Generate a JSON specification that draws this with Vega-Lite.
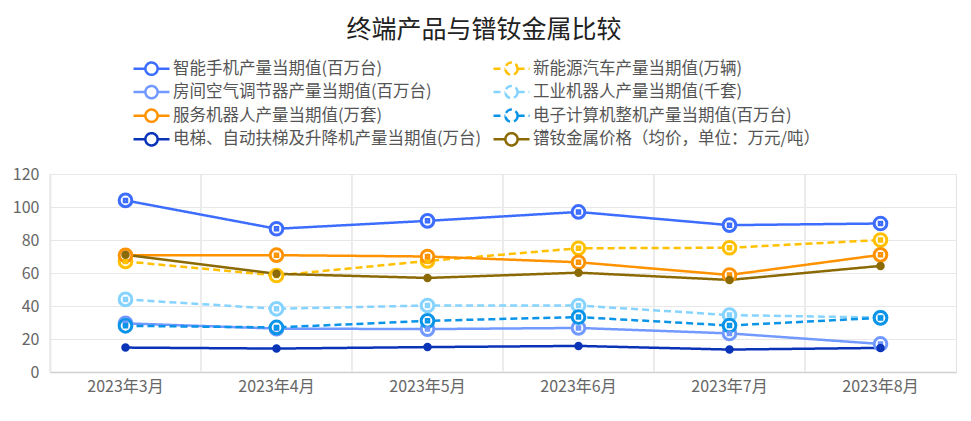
{
  "$schema": "https://vega.github.io/schema/vega-lite/v6.json",
  "width": 906,
  "height": 198,
  "autosize": "none",
  "padding": {"left": 50, "top": 174, "right": 15, "bottom": 49},
  "title": {"text": "终端产品与镨钕金属比较", "fontSize": 25, "fontWeight": "normal", "color": "#222", "offset": 15, "dx": -19, "font": "Noto Sans CJK SC"},
  "config": {
    "font": "Noto Sans CJK SC",
    "view": {"stroke": "#e3e3e3"},
    "legend": {
      "orient": "none", "legendX": 91, "legendY": -116, "columns": 2, "columnPadding": 6, "rowPadding": 0.6,
      "labelFontSize": 16.5, "labelColor": "#555", "labelLimit": 500, "labelOffset": 11,
      "symbolType": "M-2,0H-0.68M0.68,0H2M0.68,0A0.68,0.68 0 1,1 -0.68,0A0.68,0.68 0 1,1 0.68,0Z",
      "symbolSize": 324, "symbolStrokeWidth": 2.5, "symbolFillColor": "white", "title": null
    }
  },
  "data": {"values": [
    {"month": "2023年3月", "series": "智能手机产量当期值(百万台)", "value": 104},
    {"month": "2023年4月", "series": "智能手机产量当期值(百万台)", "value": 86.8},
    {"month": "2023年5月", "series": "智能手机产量当期值(百万台)", "value": 91.6},
    {"month": "2023年6月", "series": "智能手机产量当期值(百万台)", "value": 97},
    {"month": "2023年7月", "series": "智能手机产量当期值(百万台)", "value": 89},
    {"month": "2023年8月", "series": "智能手机产量当期值(百万台)", "value": 90},
    {"month": "2023年3月", "series": "新能源汽车产量当期值(万辆)", "value": 67},
    {"month": "2023年4月", "series": "新能源汽车产量当期值(万辆)", "value": 58.5},
    {"month": "2023年5月", "series": "新能源汽车产量当期值(万辆)", "value": 67.3},
    {"month": "2023年6月", "series": "新能源汽车产量当期值(万辆)", "value": 75},
    {"month": "2023年7月", "series": "新能源汽车产量当期值(万辆)", "value": 75.3},
    {"month": "2023年8月", "series": "新能源汽车产量当期值(万辆)", "value": 80},
    {"month": "2023年3月", "series": "房间空气调节器产量当期值(百万台)", "value": 29.5},
    {"month": "2023年4月", "series": "房间空气调节器产量当期值(百万台)", "value": 26.3},
    {"month": "2023年5月", "series": "房间空气调节器产量当期值(百万台)", "value": 26},
    {"month": "2023年6月", "series": "房间空气调节器产量当期值(百万台)", "value": 26.7},
    {"month": "2023年7月", "series": "房间空气调节器产量当期值(百万台)", "value": 23.4},
    {"month": "2023年8月", "series": "房间空气调节器产量当期值(百万台)", "value": 17},
    {"month": "2023年3月", "series": "工业机器人产量当期值(千套)", "value": 44},
    {"month": "2023年4月", "series": "工业机器人产量当期值(千套)", "value": 38.3},
    {"month": "2023年5月", "series": "工业机器人产量当期值(千套)", "value": 40.3},
    {"month": "2023年6月", "series": "工业机器人产量当期值(千套)", "value": 40.3},
    {"month": "2023年7月", "series": "工业机器人产量当期值(千套)", "value": 34.5},
    {"month": "2023年8月", "series": "工业机器人产量当期值(千套)", "value": 33},
    {"month": "2023年3月", "series": "服务机器人产量当期值(万套)", "value": 70.7},
    {"month": "2023年4月", "series": "服务机器人产量当期值(万套)", "value": 70.8},
    {"month": "2023年5月", "series": "服务机器人产量当期值(万套)", "value": 70},
    {"month": "2023年6月", "series": "服务机器人产量当期值(万套)", "value": 66.5},
    {"month": "2023年7月", "series": "服务机器人产量当期值(万套)", "value": 58.8},
    {"month": "2023年8月", "series": "服务机器人产量当期值(万套)", "value": 71},
    {"month": "2023年3月", "series": "电子计算机整机产量当期值(百万台)", "value": 28},
    {"month": "2023年4月", "series": "电子计算机整机产量当期值(百万台)", "value": 27},
    {"month": "2023年5月", "series": "电子计算机整机产量当期值(百万台)", "value": 31},
    {"month": "2023年6月", "series": "电子计算机整机产量当期值(百万台)", "value": 33.3},
    {"month": "2023年7月", "series": "电子计算机整机产量当期值(百万台)", "value": 28.2},
    {"month": "2023年8月", "series": "电子计算机整机产量当期值(百万台)", "value": 32.8},
    {"month": "2023年3月", "series": "电梯、自动扶梯及升降机产量当期值(万台)", "value": 14.8},
    {"month": "2023年4月", "series": "电梯、自动扶梯及升降机产量当期值(万台)", "value": 14.2},
    {"month": "2023年5月", "series": "电梯、自动扶梯及升降机产量当期值(万台)", "value": 15.1},
    {"month": "2023年6月", "series": "电梯、自动扶梯及升降机产量当期值(万台)", "value": 15.8},
    {"month": "2023年7月", "series": "电梯、自动扶梯及升降机产量当期值(万台)", "value": 13.6},
    {"month": "2023年8月", "series": "电梯、自动扶梯及升降机产量当期值(万台)", "value": 14.6},
    {"month": "2023年3月", "series": "镨钕金属价格（均价，单位：万元/吨）", "value": 71},
    {"month": "2023年4月", "series": "镨钕金属价格（均价，单位：万元/吨）", "value": 59.5},
    {"month": "2023年5月", "series": "镨钕金属价格（均价，单位：万元/吨）", "value": 57},
    {"month": "2023年6月", "series": "镨钕金属价格（均价，单位：万元/吨）", "value": 60.2},
    {"month": "2023年7月", "series": "镨钕金属价格（均价，单位：万元/吨）", "value": 55.8},
    {"month": "2023年8月", "series": "镨钕金属价格（均价，单位：万元/吨）", "value": 64.3}
  ]},
  "encoding": {
    "x": {"field": "month", "type": "ordinal", "sort": null, "bandPosition": 0.5,
      "scale": {"type": "band", "paddingInner": 0, "paddingOuter": 0},
      "axis": {"title": null, "labelAngle": 0, "ticks": false, "grid": false, "domainColor": "#d0d0d0", "domainWidth": 1.5, "labelColor": "#666", "labelFontSize": 16, "labelPadding": 6}},
    "y": {"field": "value", "type": "quantitative", "scale": {"domain": [0, 120]},
      "axis": {"title": null, "values": [0, 20, 40, 60, 80, 100, 120], "ticks": false, "grid": true, "gridColor": "#e8e8e8", "domainColor": "#d0d0d0", "domainWidth": 1.5, "labelColor": "#666", "labelFontSize": 16, "labelPadding": 11}},
    "color": {"field": "series", "type": "nominal",
      "scale": {"domain": ["智能手机产量当期值(百万台)", "房间空气调节器产量当期值(百万台)", "服务机器人产量当期值(万套)", "电梯、自动扶梯及升降机产量当期值(万台)", "新能源汽车产量当期值(万辆)", "工业机器人产量当期值(千套)", "电子计算机整机产量当期值(百万台)", "镨钕金属价格（均价，单位：万元/吨）"],
        "range": ["#3d6dff", "#7199ff", "#ff9200", "#0a34b8", "#ffc000", "#86d3ff", "#0a94e8", "#8b6a06"]}}
  },
  "layer": [
    {
      "mark": {"type": "rule", "color": "#ebebeb", "strokeWidth": 1},
      "encoding": {"x": {"field": "month", "type": "ordinal", "sort": null, "bandPosition": 0}, "y": null, "color": null}
    },
    {
      "mark": {"type": "line", "strokeWidth": 2.5},
      "encoding": {
        "strokeDash": {"field": "series", "type": "nominal",
          "scale": {"domain": ["智能手机产量当期值(百万台)", "房间空气调节器产量当期值(百万台)", "服务机器人产量当期值(万套)", "电梯、自动扶梯及升降机产量当期值(万台)", "新能源汽车产量当期值(万辆)", "工业机器人产量当期值(千套)", "电子计算机整机产量当期值(百万台)", "镨钕金属价格（均价，单位：万元/吨）"],
            "range": [[1, 0], [1, 0], [1, 0], [1, 0], [7, 4], [7, 4], [7, 4], [1, 0]]}}
      }
    },
    {
      "transform": [{"filter": {"not": {"field": "series", "oneOf": ["电梯、自动扶梯及升降机产量当期值(万台)", "镨钕金属价格（均价，单位：万元/吨）"]}}}],
      "mark": {"type": "point", "shape": "circle", "filled": false, "fill": "white", "fillOpacity": 1, "opacity": 1, "size": 160, "strokeWidth": 3}
    },
    {
      "transform": [{"filter": {"not": {"field": "series", "oneOf": ["电梯、自动扶梯及升降机产量当期值(万台)", "镨钕金属价格（均价，单位：万元/吨）"]}}}],
      "mark": {"type": "point", "shape": "square", "filled": false, "size": 9, "strokeWidth": 2.5, "opacity": 1}
    },
    {
      "transform": [{"filter": {"field": "series", "oneOf": ["电梯、自动扶梯及升降机产量当期值(万台)", "镨钕金属价格（均价，单位：万元/吨）"]}}],
      "mark": {"type": "point", "shape": "circle", "filled": false, "size": 16, "strokeWidth": 4.5, "opacity": 1}
    }
  ]
}
